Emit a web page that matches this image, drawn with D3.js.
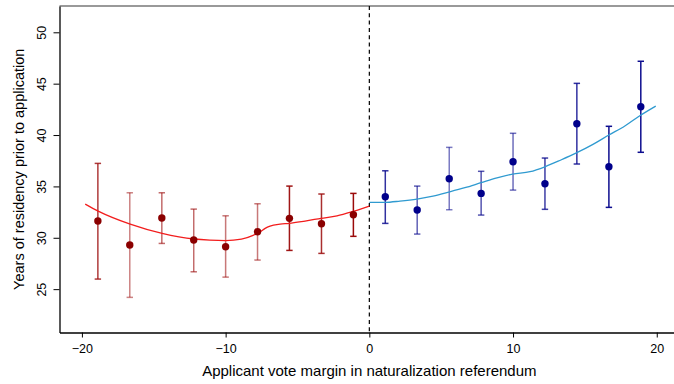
<!DOCTYPE html>
<html>
<head>
<meta charset="utf-8">
<script src="https://cdn.jsdelivr.net/npm/d3@7"></script>
<style>
  body { margin: 0; background: #fff; }
  svg { display: block; font-family: "Liberation Sans", Arial, sans-serif; }
</style>
</head>
<body>
<div id="chart"></div>
<script>
// bin centres (vote margin)
const leftBins = [-18.89, -16.67, -14.44, -12.22, -10, -7.78, -5.56, -3.33, -1.11];
const rightBins = [1.11, 3.33, 5.56, 7.78, 10, 12.22, 14.44, 16.67, 18.89];

// bin means and 95% intervals
const leftMean = [31.63, 29.29, 31.92, 29.78, 29.12, 30.58, 31.89, 31.36, 32.24];
const leftHi = [37.24, 34.38, 34.38, 32.79, 32.14, 33.31, 35.03, 34.26, 34.32];
const leftLo = [25.98, 24.20, 29.45, 26.69, 26.17, 27.83, 28.77, 28.48, 30.14];
const rightMean = [33.99, 32.70, 35.74, 34.32, 37.40, 35.26, 41.10, 36.91, 42.76];
const rightHi = [36.52, 35.03, 38.80, 36.47, 40.17, 37.76, 45.03, 40.85, 47.18];
const rightLo = [31.40, 30.36, 32.73, 32.21, 34.64, 32.77, 37.18, 32.96, 38.32];

// relative weight of each bin (shown as bar opacity)
const leftWeight = [0.8, 0.5, 0.6, 0.6, 0.55, 0.55, 0.95, 0.85, 1.0];
const rightWeight = [0.85, 0.65, 0.55, 0.7, 0.6, 0.8, 0.85, 1.0, 1.0];

// smoothed fit on each side
const leftFitX = [-19.77, -18.87, -16.64, -14.42, -12.21, -11.1, -10, -8.9, -8.09, -7.6, -7.25, -6.91, -6.21, -5.58, -4.47, -3.36, -2.25, -1.14, 0];
const leftFitY = [33.28, 32.60, 31.33, 30.43, 29.88, 29.77, 29.73, 29.86, 30.23, 30.58, 30.92, 31.14, 31.33, 31.40, 31.63, 31.89, 32.14, 32.57, 33.09];
const rightFitX = [0, 1.09, 2.13, 3.32, 4.43, 5.54, 6.65, 7.77, 8.88, 9.97, 11.18, 12.22, 13.33, 14.44, 15.56, 16.67, 17.78, 18.82, 19.93];
const rightFitY = [33.45, 33.45, 33.57, 33.77, 34.06, 34.45, 34.87, 35.36, 35.84, 36.20, 36.43, 36.91, 37.57, 38.28, 39.09, 40.0, 40.88, 41.88, 42.82];

const xTicks = [-20, -10, 0, 10, 20];
const yTicks = [25, 30, 35, 40, 45, 50];

const width = 674, height = 384;
const plotLeft = 59.5, plotTop = 6, plotRight = 674, plotBottom = 332.5;

const svg = d3.select("#chart").append("svg")
  .attr("width", width)
  .attr("height", height);

const x = d3.scaleLinear().domain([-21.56, 21.2]).range([plotLeft, plotRight]);
const y = d3.scaleLinear().domain([20.78, 52.56]).range([plotBottom, plotTop]);

// frame: grey top line
svg.append("line")
  .attr("x1", plotLeft).attr("x2", plotRight)
  .attr("y1", plotTop).attr("y2", plotTop)
  .attr("stroke", "#777").attr("stroke-width", 1.5);

// x axis
const gx = svg.append("g")
  .attr("transform", "translate(0," + plotBottom + ")")
  .call(d3.axisBottom(x).tickValues(xTicks).tickSize(5).tickSizeOuter(0).tickPadding(7));
gx.select(".domain").attr("stroke", "#000").attr("stroke-width", 1.3);
gx.selectAll(".tick line").attr("stroke", "#000");
gx.selectAll("text").style("font-size", "12.5px").attr("fill", "#000");

// y axis
const gy = svg.append("g")
  .attr("transform", "translate(" + plotLeft + ",0)")
  .call(d3.axisLeft(y).tickValues(yTicks).tickSize(6).tickSizeOuter(0));
gy.select(".domain").attr("stroke", "#000").attr("stroke-width", 1.3);
gy.selectAll(".tick line").attr("stroke", "#000");
gy.selectAll("text")
  .attr("x", null).attr("dy", null)
  .attr("transform", "rotate(-90)")
  .attr("y", -14)
  .attr("text-anchor", "middle")
  .style("font-size", "12.5px")
  .attr("fill", "#000");

// axis titles
svg.append("text")
  .attr("x", x(0)).attr("y", 376)
  .attr("text-anchor", "middle")
  .style("font-size", "15px")
  .text("Applicant vote margin in naturalization referendum");

svg.append("text")
  .attr("transform", "translate(24," + ((plotTop + plotBottom) / 2) + ") rotate(-90)")
  .attr("text-anchor", "middle")
  .style("font-size", "14.5px")
  .text("Years of residency prior to application");

// threshold
svg.append("line")
  .attr("x1", x(0)).attr("x2", x(0))
  .attr("y1", plotTop).attr("y2", plotBottom)
  .attr("stroke", "#000")
  .attr("stroke-width", 1.2)
  .attr("stroke-dasharray", "4,3.3");

const opacity = d3.scaleLinear().domain([0, 1]).range([0, 1]);

function drawSide(bins, mean, lo, hi, weight, fitX, fitY, barColor, dotColor, lineColor) {
  const rows = bins.map((b, i) => ({ b: b, m: mean[i], lo: lo[i], hi: hi[i], w: weight[i] }));

  const bars = svg.append("g").selectAll("g")
    .data(rows)
    .enter()
    .append("g")
    .attr("stroke", barColor)
    .attr("stroke-opacity", d => opacity(d.w))
    .attr("stroke-width", 1.5);

  bars.append("line")
    .attr("x1", d => x(d.b)).attr("x2", d => x(d.b))
    .attr("y1", d => y(d.lo)).attr("y2", d => y(d.hi));
  bars.append("line")
    .attr("x1", d => x(d.b) - 3.2).attr("x2", d => x(d.b) + 3.2)
    .attr("y1", d => y(d.hi)).attr("y2", d => y(d.hi));
  bars.append("line")
    .attr("x1", d => x(d.b) - 3.2).attr("x2", d => x(d.b) + 3.2)
    .attr("y1", d => y(d.lo)).attr("y2", d => y(d.lo));

  const fit = fitX.map((v, i) => [v, fitY[i]]);
  svg.append("path")
    .datum(fit)
    .attr("fill", "none")
    .attr("stroke", lineColor)
    .attr("stroke-width", 1.3)
    .attr("d", d3.line().x(d => x(d[0])).y(d => y(d[1])).curve(d3.curveMonotoneX));

  svg.append("g").selectAll("circle")
    .data(rows)
    .enter()
    .append("circle")
    .attr("cx", d => x(d.b))
    .attr("cy", d => y(d.m))
    .attr("r", 3.7)
    .attr("fill", dotColor);
}

drawSide(leftBins, leftMean, leftLo, leftHi, leftWeight, leftFitX, leftFitY, "#9b0a0a", "#8b0000", "#f21d1d");
drawSide(rightBins, rightMean, rightLo, rightHi, rightWeight, rightFitX, rightFitY, "#0d0d8f", "#00008b", "#2f9ad0");
</script>
</body>
</html>
